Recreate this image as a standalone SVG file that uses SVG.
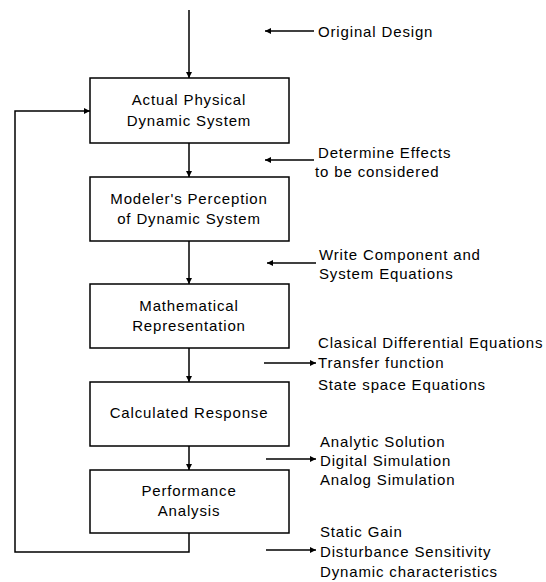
<svg xmlns="http://www.w3.org/2000/svg" width="546" height="582" viewBox="0 0 546 582">
  <style>
    .box { fill: #ffffff; stroke: #000000; stroke-width: 1.5; }
    .line { fill: none; stroke: #000000; stroke-width: 1.5; }
    .label { font-family: "Liberation Sans", Arial, sans-serif; font-size: 15px; letter-spacing: 0.85px; fill: #000000; }
    .mid { text-anchor: middle; }
  </style>
  <defs>
    <marker id="arrow" viewBox="0 0 8 8" refX="8" refY="4" markerWidth="6" markerHeight="6" markerUnits="userSpaceOnUse" orient="auto">
      <path d="M0,0 L8,4 L0,8 Z" fill="#000000"/>
    </marker>
  </defs>

  <rect width="546" height="582" fill="#ffffff"/>

  <!-- connectors -->
  <g id="connectors">
    <line class="line" x1="189" y1="10" x2="189" y2="78" marker-end="url(#arrow)"/>
    <line class="line" x1="189" y1="143" x2="189" y2="177" marker-end="url(#arrow)"/>
    <line class="line" x1="189" y1="241" x2="189" y2="284" marker-end="url(#arrow)"/>
    <line class="line" x1="189" y1="348" x2="189" y2="382" marker-end="url(#arrow)"/>
    <line class="line" x1="189" y1="446" x2="189" y2="470" marker-end="url(#arrow)"/>
    <!-- feedback loop -->
    <polyline class="line" points="189,533 189,552 15,552 15,111 90,111" marker-end="url(#arrow)"/>
    <!-- side inputs -->
    <line class="line" x1="314" y1="31" x2="265" y2="31" marker-end="url(#arrow)"/>
    <line class="line" x1="314" y1="160" x2="265" y2="160" marker-end="url(#arrow)"/>
    <line class="line" x1="316" y1="263" x2="267" y2="263" marker-end="url(#arrow)"/>
    <!-- side outputs -->
    <line class="line" x1="264" y1="363" x2="316" y2="363" marker-end="url(#arrow)"/>
    <line class="line" x1="266" y1="459" x2="316" y2="459" marker-end="url(#arrow)"/>
    <line class="line" x1="266" y1="550" x2="316" y2="550" marker-end="url(#arrow)"/>
  </g>

  <g id="actual-system">
    <rect class="box" x="90" y="78" width="199" height="65"/>
    <text class="label mid" x="189" y="105">Actual Physical</text>
    <text class="label mid" x="189" y="126">Dynamic System</text>
  </g>

  <g id="perception">
    <rect class="box" x="90" y="177" width="199" height="64"/>
    <text class="label mid" x="189" y="204">Modeler's Perception</text>
    <text class="label mid" x="189" y="224">of Dynamic System</text>
  </g>

  <g id="math-representation">
    <rect class="box" x="90" y="284" width="199" height="64"/>
    <text class="label mid" x="189" y="311">Mathematical</text>
    <text class="label mid" x="189" y="331">Representation</text>
  </g>

  <g id="calculated-response">
    <rect class="box" x="90" y="382" width="199" height="64"/>
    <text class="label mid" x="189" y="418">Calculated Response</text>
  </g>

  <g id="performance-analysis">
    <rect class="box" x="90" y="470" width="199" height="63"/>
    <text class="label mid" x="189" y="496">Performance</text>
    <text class="label mid" x="189" y="516">Analysis</text>
  </g>

  <g id="original-design">
    <text class="label" x="318" y="37">Original Design</text>
  </g>

  <g id="determine-effects">
    <text class="label" x="318" y="158">Determine Effects</text>
    <text class="label" x="315" y="177">to be considered</text>
  </g>

  <g id="write-equations">
    <text class="label" x="319" y="260">Write Component and</text>
    <text class="label" x="319" y="279">System Equations</text>
  </g>

  <g id="model-forms">
    <text class="label" x="318" y="348">Clasical Differential Equations</text>
    <text class="label" x="318" y="368">Transfer function</text>
    <text class="label" x="318" y="390">State space Equations</text>
  </g>

  <g id="solution-methods">
    <text class="label" x="320" y="447">Analytic Solution</text>
    <text class="label" x="320" y="466">Digital Simulation</text>
    <text class="label" x="320" y="485">Analog Simulation</text>
  </g>

  <g id="performance-measures">
    <text class="label" x="320" y="537">Static Gain</text>
    <text class="label" x="320" y="557">Disturbance Sensitivity</text>
    <text class="label" x="320" y="577">Dynamic characteristics</text>
  </g>
</svg>
